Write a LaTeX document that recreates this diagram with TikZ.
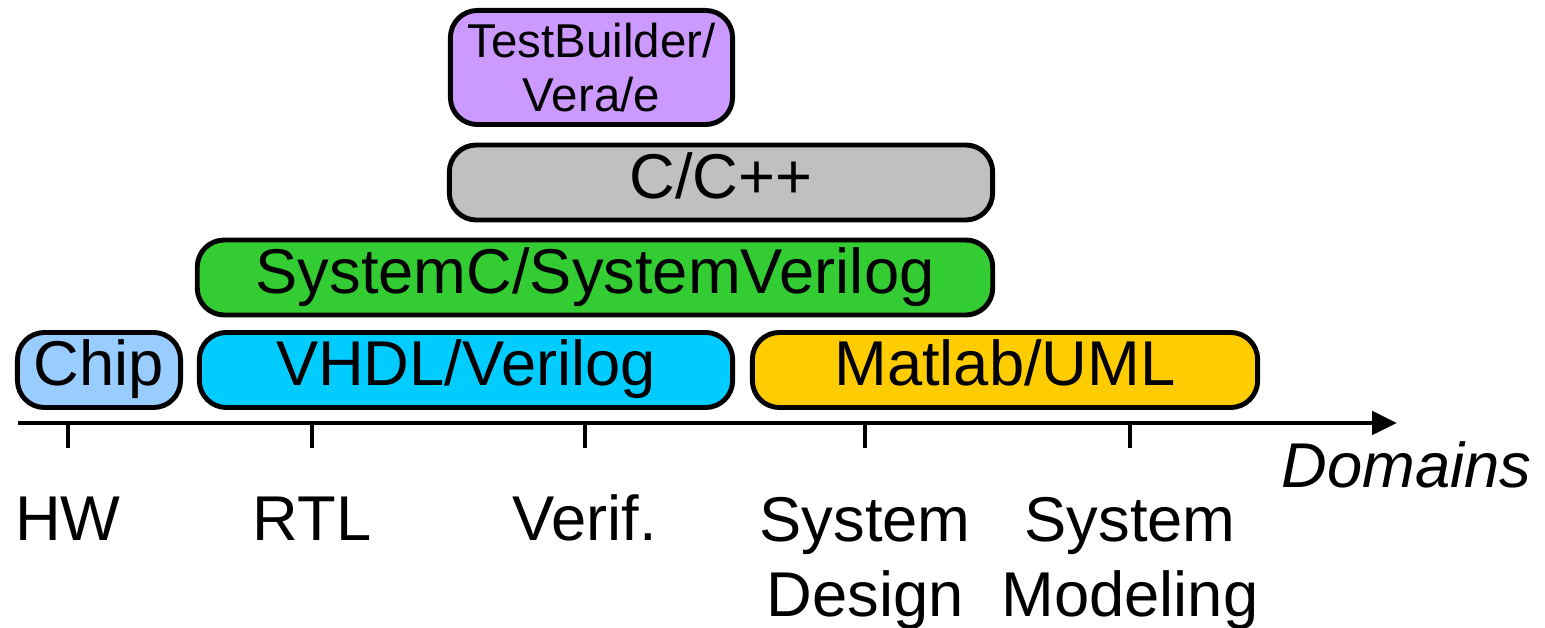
\documentclass[tikz,border=0pt]{standalone}
\usepackage{fontspec}
\setmainfont{Liberation Sans}
\usetikzlibrary{arrows.meta}
\definecolor{tbpurple}{HTML}{CC99FF}
\definecolor{cgray}{HTML}{C0C0C0}
\definecolor{scgreen}{HTML}{33CC33}
\definecolor{chipblue}{HTML}{99CCFF}
\definecolor{hdlcyan}{HTML}{00CCFF}
\definecolor{mlgold}{HTML}{FFCC00}
\begin{document}
\begin{tikzpicture}[
  x=0.01cm,y=-0.01cm,
  lang/.style={draw,line width=1.4pt,rounded corners=0.27cm,minimum height=0.75cm,
    inner sep=0pt,text height=12.8pt,text depth=3.7pt,font=\fontsize{18}{21}\selectfont},
  dom/.style={anchor=base,inner sep=0pt,align=center,font=\fontsize{18}{21.6}\selectfont},
  tick/.style={line width=1.4pt}
]
  \useasboundingbox (0,0) rectangle (1545,628);
  % language boxes
  \node[lang,fill=tbpurple,minimum width=2.82cm,minimum height=1.14cm,align=center,
    text height=,text depth=,font=\fontsize{13.5}{15.6}\selectfont] (tb) at (591.5,67.5) {TestBuilder/\\Vera/e};
  \node[lang,fill=cgray,minimum width=5.43cm] (cpp) at (721,182.5) {C/C++};
  \node[lang,fill=scgreen,minimum width=7.95cm] (sc) at (595,277.5) {SystemC/SystemVerilog};
  \node[lang,fill=chipblue,minimum width=1.63cm] (chip) at (99,370) {Chip};
  \node[lang,fill=hdlcyan,minimum width=5.33cm] (hdl) at (466,370) {VHDL/Verilog};
  \node[lang,fill=mlgold,minimum width=5.05cm] (uml) at (1005,370) {Matlab/UML};

  % axis
  \coordinate (ax0) at (18,423);
  \coordinate (ax1) at (1397,423);
  \draw[line width=1.4pt,-{Triangle[length=0.25cm,width=0.23cm]}] (ax0) -- (ax1);
  \node[anchor=base east,inner sep=0pt,font=\fontsize{18}{21}\selectfont\itshape] (dom) at (1532,488) {Domains};

  \coordinate (t1) at (68,423);
  \coordinate (t2) at (312,423);
  \coordinate (t3) at (585,423);
  \coordinate (t4) at (865,423);
  \coordinate (t5) at (1130,423);
  \draw[tick] (t1) -- ++(0,25);
  \draw[tick] (t2) -- ++(0,25);
  \draw[tick] (t3) -- ++(0,25);
  \draw[tick] (t4) -- ++(0,25);
  \draw[tick] (t5) -- ++(0,25);

  % domain labels (base = last line)
  \node[dom] (hw) at (68,541) {HW};
  \node[dom] (rtl) at (312,541) {RTL};
  \node[dom] (ver) at (585,541) {Verif.};
  \node[dom] (sd) at (865,617) {System\\Design};
  \node[dom] (sm) at (1130,617) {System\\Modeling};
\end{tikzpicture}
\end{document}
